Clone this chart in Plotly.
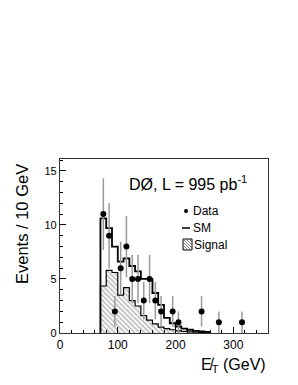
import numpy as np
import plotly.graph_objects as go

# ---- data ----
bin_lo = [70, 80, 90, 100, 110, 120, 130, 140, 150, 160, 170, 180, 190, 200, 210, 220, 230, 240, 250]
bin_width = 10
sm_values = [10.6, 9.7, 8.0, 6.6, 6.9, 6.2, 5.7, 5.0, 5.0, 3.7, 2.6, 1.4, 0.9, 0.6, 0.4, 0.3, 0.2, 0.15, 0.1]
signal_values = [4.35, 5.8, 5.6, 3.5, 4.2, 3.0, 2.5, 1.6, 1.2, 0.85, 0.55, 0.4, 0.3, 0.2, 0.15, 0.1, 0.08, 0.05, 0.03]

data_x = [75, 85, 95, 105, 115, 125, 135, 145, 155, 165, 175, 195, 205, 245, 275, 315]
data_y = [11, 9, 2, 6, 8, 5, 5, 3, 5, 3, 2, 2, 1, 2, 1, 1]

x_ticks = [0, 100, 200, 300]
y_ticks = [0, 5, 10, 15]

FONT = "Liberation Sans, Arial, Helvetica, sans-serif"

# page body has an 8px default margin; figure drawn from (8,8)
OFF = 8


def step_xy(lo, vals, w):
    xs = [lo[0]]
    ys = [0]
    for x0, v in zip(lo, vals):
        xs.append(x0)
        ys.append(v)
    xs.append(lo[-1] + w)
    ys.append(vals[-1])
    xs.append(lo[-1] + w)
    ys.append(0)
    return xs, ys


fig = go.Figure()

sx, sy = step_xy(bin_lo, signal_values, bin_width)
fig.add_trace(go.Scatter(
    x=sx, y=sy, mode="lines", line=dict(shape="hv", color="black", width=1.2),
    fill="tozeroy", fillcolor="rgba(0,0,0,0)",
    fillpattern=dict(shape="\\", fgcolor="#555555", bgcolor="white", size=3.5, solidity=0.35),
    showlegend=False, hoverinfo="skip"))

mx, my = step_xy(bin_lo, sm_values, bin_width)
fig.add_trace(go.Scatter(
    x=mx, y=my, mode="lines", line=dict(shape="hv", color="black", width=1.8),
    showlegend=False, hoverinfo="skip"))

err = [float(np.sqrt(v)) for v in data_y]
fig.add_trace(go.Scatter(
    x=data_x, y=data_y, mode="markers",
    marker=dict(color="black", size=6),
    error_y=dict(type="data", array=err, visible=True, color="#9a9a9a", thickness=1.5, width=0),
    showlegend=False, hoverinfo="skip"))

fig.update_layout(
    width=298 - OFF, height=385 - OFF,
    margin=dict(l=60 - OFF, r=30, t=159 - OFF, b=52, autoexpand=False),
    paper_bgcolor="white", plot_bgcolor="white",
    font=dict(family=FONT, color="black"),
    showlegend=False,
)

fig.update_xaxes(
    range=[0, 360], tickvals=x_ticks, ticktext=[str(v) for v in x_ticks],
    ticks="inside", ticklen=6, tickcolor="black", tickwidth=1,
    minor=dict(dtick=20, ticks="inside", ticklen=3, tickcolor="black"),
    showline=True, linecolor="#333333", linewidth=1.2, mirror=True,
    showgrid=False, zeroline=False, tickfont=dict(size=12, family=FONT),
)
fig.update_yaxes(
    range=[0, 16.1], tickvals=y_ticks, ticktext=[str(v) for v in y_ticks],
    ticks="inside", ticklen=6, tickcolor="black", tickwidth=1,
    minor=dict(dtick=1, ticks="inside", ticklen=3, tickcolor="black"),
    showline=True, linecolor="#333333", linewidth=1.2, mirror=True,
    showgrid=False, zeroline=False, tickfont=dict(size=11, family=FONT),
)


def px(xp):
    return (xp - 60) / 208.0


def py(yp):
    return (333 - yp) / 174.0


ann = [
    dict(text="Events / 10 GeV", x=px(22), y=py(162), xanchor="center", yanchor="top",
         textangle=-90, font=dict(size=16.5)),
    dict(text="E\u0338<sub>T</sub> (GeV)", x=1.0, y=py(365), xanchor="right", yanchor="middle",
         font=dict(size=16)),
    dict(text="DØ, L = 995 pb<sup>-1</sup>", x=px(127), y=py(183), xanchor="left", yanchor="middle",
         font=dict(size=16)),
    dict(text="Data", x=px(191), y=py(211), xanchor="left", yanchor="middle", font=dict(size=12)),
    dict(text="SM", x=px(191), y=py(228), xanchor="left", yanchor="middle", font=dict(size=12)),
    dict(text="Signal", x=px(192), y=py(245), xanchor="left", yanchor="middle", font=dict(size=12)),
]
for a in ann:
    a.update(xref="paper", yref="paper", showarrow=False)
fig.update_layout(annotations=ann)

shapes = [
    dict(type="circle", xref="paper", yref="paper", x0=px(184), x1=px(188), y0=py(213), y1=py(209),
         fillcolor="black", line=dict(color="black", width=0)),
    dict(type="line", xref="paper", yref="paper", x0=px(182), x1=px(190), y0=py(228), y1=py(228),
         line=dict(color="black", width=1.5)),
    dict(type="rect", xref="paper", yref="paper", x0=px(183), x1=px(192), y0=py(250), y1=py(239),
         fillcolor="rgba(0,0,0,0)", line=dict(color="black", width=1)),
]
fig.update_layout(shapes=shapes)

# hatch inside legend box
for k in range(-9, 9, 3):
    x0, y0 = 183 + max(k, 0), 239 + max(-k, 0)
    x1 = min(192, 183 + k + 11)
    y1 = y0 + (x1 - x0)
    if y1 > 250:
        x1 -= (y1 - 250)
        y1 = 250
    if x1 > x0:
        fig.add_shape(type="line", xref="paper", yref="paper", x0=px(x0), y0=py(y0), x1=px(x1), y1=py(y1),
                      line=dict(color="#555555", width=0.8))

fig.write_html("out.html")
